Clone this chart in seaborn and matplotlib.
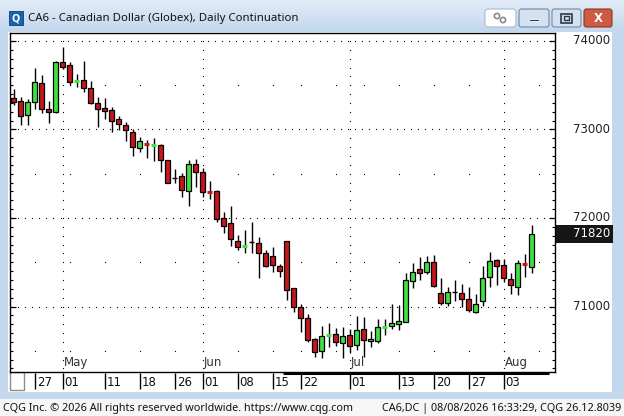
import numpy as np
import pandas as pd
import matplotlib
matplotlib.use("Agg")
import matplotlib.pyplot as plt
import seaborn as sns
from matplotlib.patches import Rectangle, FancyBboxPatch
from matplotlib.colors import LinearSegmentedColormap

# daily bars of the CA6 continuation, day 0 = Apr 27 (trading-day index)
day = list(range(-3, 72))
opens = [73360, 73320, 73160, 73305, 73530, 73230, 73200, 73760, 73730, 73545,
         73560, 73465, 73300, 73245, 73220, 73115, 73050, 72970, 72790, 72840,
         72815, 72820, 72650, 72450, 72480, 72300, 72605, 72515, 72300, 72310,
         71995, 71940, 71735, 71680, 71725, 71715, 71600, 71565, 71460, 71740,
         71205, 70990, 70865, 70630, 70500, 70670, 70690, 70590, 70675, 70560,
         70745, 70605, 70615, 70765, 70775, 70805, 70830, 71290, 71420, 71385,
         71500, 71150, 71040, 71160, 71155, 71085, 70935, 71060, 71330, 71525,
         71465, 71315, 71225, 71480, 71445]
highs = [73455, 73370, 73340, 73700, 73615, 73320, 73775, 73935, 73765, 73625,
         73775, 73550, 73370, 73350, 73255, 73150, 73085, 73000, 72910, 72880,
         72900, 72835, 72655, 72550, 72505, 72655, 72665, 72570, 72420, 72315,
         72065, 72135, 71810, 71865, 71960, 71780, 71640, 71670, 71475, 71745,
         71210, 71030, 70910, 70640, 70780, 70810, 70755, 70770, 70745, 70890,
         70885, 70725, 70855, 70855, 71030, 71015, 71375, 71490, 71555, 71570,
         71580, 71325, 71215, 71300, 71255, 71215, 71140, 71455, 71620, 71540,
         71535, 71380, 71525, 71595, 71920]
lows = [73275, 73050, 73045, 73230, 73185, 73070, 73190, 73685, 73505, 73485,
        73425, 73290, 73030, 73120, 72970, 72995, 72875, 72700, 72740, 72675,
        72645, 72525, 72390, 72400, 72240, 72140, 72355, 72240, 72210, 71960,
        71835, 71685, 71640, 71600, 71610, 71320, 71450, 71395, 71335, 71075,
        70940, 70710, 70600, 70435, 70415, 70545, 70555, 70415, 70470, 70510,
        70435, 70540, 70585, 70680, 70745, 70740, 70825, 71210, 71300, 71365,
        71225, 71015, 71010, 71060, 70990, 70940, 70925, 71005, 71215, 71245,
        71280, 71140, 71130, 71335, 71380]
closes = [73305, 73155, 73315, 73535, 73230, 73200, 73760, 73710, 73535, 73550,
          73465, 73295, 73230, 73210, 73095, 73060, 72990, 72800, 72865, 72830,
          72825, 72650, 72400, 72450, 72315, 72605, 72525, 72290, 72290, 71985,
          71915, 71760, 71675, 71690, 71725, 71610, 71460, 71465, 71400, 71185,
          70990, 70865, 70620, 70490, 70665, 70680, 70600, 70665, 70555, 70740,
          70620, 70635, 70765, 70775, 70810, 70835, 71305, 71395, 71380, 71505,
          71235, 71045, 71160, 71160, 71090, 70960, 71025, 71320, 71515, 71455,
          71318, 71245, 71490, 71470, 71820]

price_ticks = [71000, 72000, 73000, 74000]
half_levels = [70500, 71500, 72500, 73500]
date_ticks = [0, 4, 10, 15, 20, 24, 29, 34, 38, 45, 52, 57, 62, 67]
date_labels = ["27", "01", "11", "18", "26", "01", "08", "15", "22", "01", "13", "20", "27", "03"]
month_ticks = [4, 24, 45, 67]
month_labels = ["May", "Jun", "Jul", "Aug"]
week_starts = [0, 5, 10, 15, 20, 24, 29, 34, 38, 43, 47, 52, 57, 62, 67, 72]
last_price = 71820

title = "CA6 - Canadian Dollar (Globex), Daily Continuation"
footer_left = "CQG Inc. \u00a9 2026 All rights reserved worldwide. https://www.cqg.com"
footer_right = "CA6,DC | 08/08/2026 16:33:29, CQG 26.12.8039"

RED = "#c8161d"
GREEN = "#3ee23e"

sns.set_theme(style="white")
plt.rcParams["font.family"] = ["DejaVu Sans"]

df = pd.DataFrame({"day": day, "open": opens, "high": highs, "low": lows, "close": closes})

fig = plt.figure(figsize=(6.24, 4.16), dpi=100)
fig.patch.set_facecolor("#c3d7ed")

# window chrome in pixel coordinates
bg = fig.add_axes([0, 0, 1, 1], zorder=0)
grad = np.linspace(0, 1, 32).reshape(-1, 1)
bg.imshow(grad, extent=(0, 624, 32, 0), aspect="auto",
          cmap=LinearSegmentedColormap.from_list("bar", ["#e2ecf8", "#c3d7ed"]))
bg.set_xlim(0, 624)
bg.set_ylim(416, 0)
bg.axis("off")
bg.add_patch(Rectangle((8, 32), 604, 360, fc="white", ec="none"))
bg.add_patch(Rectangle((0, 399), 624, 17, fc="#f6f6f6", ec="none"))
bg.add_patch(Rectangle((10, 372), 14, 18, fc="white", ec="#8c8c8c", lw=1))

bg.add_patch(Rectangle((9, 11), 14, 14, fc="#1a62ad", ec="#0d3f78", lw=0.6))
bg.text(16, 18.5, "Q", color="white", fontsize=7, fontweight="bold", ha="center", va="center")
bg.text(28, 19, title, fontsize=8.2, family=["Noto Sans"], va="center", color="#111111")

bg.add_patch(FancyBboxPatch((485, 9), 31, 18, boxstyle="round,pad=0,rounding_size=3",
                            fc="white", ec="#a9bbcf", lw=0.8))
bg.add_patch(matplotlib.patches.Circle((497, 16), 2.6, fc="none", ec="#8a8a8a", lw=1.2))
bg.add_patch(matplotlib.patches.Circle((503, 20), 2.6, fc="none", ec="#8a8a8a", lw=1.2))
for x0, w in [(519, 30), (552, 29)]:
    bg.add_patch(FancyBboxPatch((x0, 9), w, 18, boxstyle="round,pad=0,rounding_size=2.5",
                                fc="#d3e1f1", ec="#7088a6", lw=0.8))
bg.add_patch(Rectangle((529, 18.5), 10, 2.5, fc="#2e3a48", ec="white", lw=0.6))
bg.add_patch(Rectangle((561, 13.5), 11, 9, fc="none", ec="#2e3a48", lw=1.2))
bg.add_patch(Rectangle((564, 16), 5, 3.5, fc="none", ec="#2e3a48", lw=1.0))
bg.add_patch(FancyBboxPatch((584, 9), 28, 18, boxstyle="round,pad=0,rounding_size=2.5",
                            fc="#cd5a43", ec="#8e3421", lw=0.8))
bg.text(598, 18, "X", color="white", fontsize=8.5, fontweight="bold", ha="center", va="center")

bg.text(3, 408, footer_left, fontsize=7.8, family=["Noto Sans"], va="center", color="#111111")
bg.text(621, 408, footer_right, fontsize=7.8, family=["Noto Sans"], va="center", ha="right",
        color="#111111")

# price panel
ax = fig.add_axes([10 / 624, 1 - 372 / 416, 545 / 624, 339 / 416], zorder=2)
ax.set_facecolor("white")
ax.set_xlim(-3.514, 74.34)
ax.set_ylim(70260, 74090)

dot_x = np.arange(-3.3, 74.3, 1.0)
dot_y = np.arange(70300, 74090, 100)
dot_kw = dict(s=0.8, marker="o", c="black", linewidths=0, zorder=1)
for lvl in price_ticks:
    ax.scatter(dot_x, np.full(len(dot_x), lvl), **dot_kw)
for m in month_ticks:
    ax.scatter(np.full(len(dot_y), m), dot_y, **dot_kw)
for lvl in half_levels:
    ax.scatter(week_starts, np.full(len(week_starts), lvl), **dot_kw)

lo = df[["open", "close"]].min(axis=1)
hi = df[["open", "close"]].max(axis=1)
flat = (df["close"] - df["open"]).abs() < 20
real = ~flat
up = df["close"] > df["open"]

ax.vlines(df["day"], df["low"], df["high"], color="black", lw=1, zorder=3)
ax.bar(df["day"][real], (hi - lo)[real], bottom=lo[real], width=0.72,
       color=np.where(up[real], GREEN, RED), edgecolor="black", linewidth=0.9, zorder=4)
doji_col = np.where(df["close"] > df["open"], GREEN, np.where(df["close"] < df["open"], RED, "black"))
doji_lw = np.where(df["close"] == df["open"], 1.0, 2.2)
mid = (df["open"] + df["close"]) / 2
ax.hlines(mid[flat], df["day"][flat] - 0.4, df["day"][flat] + 0.4,
          colors=doji_col[flat], linewidths=doji_lw[flat], zorder=4)

for m, lab in zip(month_ticks, month_labels):
    ax.text(m + 0.15, 70370, lab, fontsize=8.5, color="#333333", ha="left", va="center")

ax.set_xticks([])
ax.set_yticks(price_ticks)
ax.set_yticks(np.arange(70300, 74090, 100), minor=True)
ax.tick_params(axis="y", which="both", direction="in", left=True, right=True,
               labelleft=False, labelright=False, color="black")
ax.tick_params(axis="y", which="major", length=4.5, width=0.9)
ax.tick_params(axis="y", which="minor", length=2.5, width=0.8)
for s in ax.spines.values():
    s.set_color("black")
    s.set_linewidth(1)

ytr = ax.get_yaxis_transform()
for p in price_ticks:
    ax.text(1.1009, p, f"{p}", transform=ytr, ha="right", va="center", fontsize=8.5,
            color="#222222", clip_on=False)
ax.add_patch(Rectangle((1.001, last_price - 100), 57 / 545, 205, transform=ytr,
                       fc="#161616", ec="none", clip_on=False, zorder=5))
ax.text(1.1009, last_price, f"{last_price}", transform=ytr, ha="right", va="center",
        fontsize=8.5, color="white", clip_on=False, zorder=6)

# date row
dax = fig.add_axes([10 / 624, 1 - 392 / 416, 545 / 624, 20 / 416], zorder=1)
dax.set_facecolor("none")
dax.set_xlim(-3.514, 74.34)
dax.set_ylim(0, 1)
dax.axis("off")
dax.vlines(date_ticks, 0.15, 0.97, color="black", lw=1)
for t, lab in zip(date_ticks, date_labels):
    dax.text(t + 0.3, 0.5, lab, fontsize=8.5, color="#111111", ha="left", va="center")
dax.hlines(0.96, 35.5, 73.5, color="black", lw=2.2)

fig.savefig("out.png", dpi=100, facecolor=fig.get_facecolor())
